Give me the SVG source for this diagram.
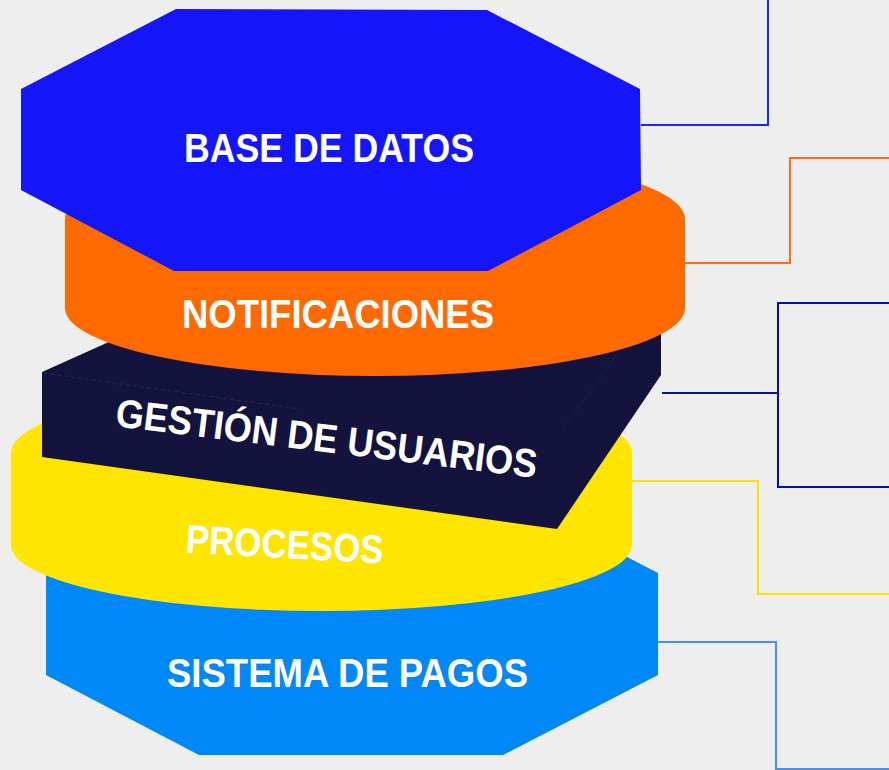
<svg xmlns="http://www.w3.org/2000/svg" width="889" height="770" viewBox="0 0 889 770">
  <style>
    .lbl { font-family: "Liberation Sans", Arial, sans-serif; font-weight: bold; font-size: 40px; fill: #ffffff; text-anchor: middle; }
    .conn { fill: none; stroke-width: 2; stroke-linejoin: miter; }
  </style>
  <rect x="0" y="0" width="889" height="770" fill="#eeeeee"/>

  <g id="connectors">
    <polyline class="conn" stroke="#2323f2" points="641,125 768,125 768,0"/>
    <polyline class="conn" stroke="#ff6c1a" points="685,263 790,263 790,158 889,158"/>
    <polyline class="conn" stroke="#0b0ba8" stroke-width="2.5" points="662,393 778,393"/>
    <polyline class="conn" stroke="#0b0ba8" stroke-width="2.5" points="889,303 778,303 778,487 889,487"/>
    <polyline class="conn" stroke="#ffe100" points="632,481 758,481 758,594 889,594"/>
    <polyline class="conn" stroke="#4a8ef0" points="658,642 776,642 776,769 889,769"/>
  </g>

  <g id="sistema-de-pagos">
    <polygon fill="#0088f9" points="201,493 503,493 658,573 658,675 503,755 199,755 46,675 46,573"/>
    <text class="lbl" x="347.5" y="687" textLength="361" lengthAdjust="spacingAndGlyphs">SISTEMA DE PAGOS</text>
  </g>

  <g id="procesos">
    <path fill="#ffe600" d="M11,453 A310.5,68 0 0 1 632,453 L632,545 A310.5,66 0 0 1 11,545 Z"/>
    <text class="lbl" x="284" y="558" textLength="198" lengthAdjust="spacingAndGlyphs" transform="rotate(3.2 284 558)">PROCESOS</text>
  </g>

  <g id="gestion-de-usuarios">
    <polygon fill="#13133e" points="42,372 180,310 661,300 661,375 557,529 42,457"/>
    <line x1="43" y1="373" x2="300" y2="409" stroke="#3a3a66" stroke-width="1" stroke-dasharray="4,3" opacity="0.6"/>
    <line x1="622" y1="348" x2="562" y2="430" stroke="#25255a" stroke-width="1" opacity="0.6"/>
    <text class="lbl" x="325" y="452" textLength="424" lengthAdjust="spacingAndGlyphs" transform="rotate(7 325 452)">GESTIÓN DE USUARIOS</text>
  </g>

  <g id="notificaciones">
    <path fill="#ff6a00" d="M65,219 A310,68 0 0 1 685,219 L685,308 A310,68 0 0 1 65,308 Z"/>
    <text class="lbl" x="338" y="328" textLength="312" lengthAdjust="spacingAndGlyphs">NOTIFICACIONES</text>
  </g>

  <g id="base-de-datos">
    <polygon fill="#1515fb" points="176,9 487,10 640,89 641,190 488,271 174,271 21,190 21,89"/>
    <text class="lbl" x="329" y="162" textLength="290" lengthAdjust="spacingAndGlyphs">BASE DE DATOS</text>
  </g>
</svg>
